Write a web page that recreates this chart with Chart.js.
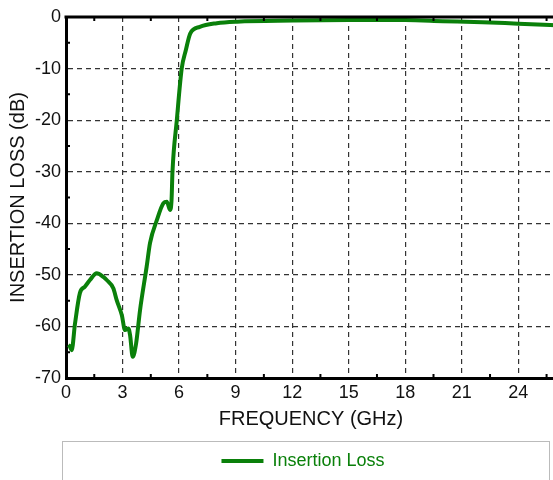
<!DOCTYPE html>
<html lang="en">
<head>
<meta charset="UTF-8">
<title>Insertion Loss</title>
<script src="https://cdn.jsdelivr.net/npm/chart.js"></script>
<style>
  html, body { margin: 0; padding: 0; background: #fff; overflow: hidden; }
  .wrap { position: relative; width: 560px; height: 480px; }
</style>
</head>
<body>
<div class="wrap"><canvas id="lossChart"></canvas></div>
<script>
// values
const freqGHz = [0.12, 0.21, 0.30, 0.48, 0.74, 1.0, 1.27, 1.63, 1.98, 2.16, 2.51, 2.69, 2.96, 3.13, 3.31, 3.40, 3.54, 3.72, 3.93, 4.28, 4.46, 4.82, 5.17, 5.35, 5.52, 5.60, 5.65, 5.88, 6.14, 6.36, 6.59, 7.1, 8.0, 9.07, 12.06, 15, 18, 20, 22.1, 24, 26];
const lossDb  = [-63.6, -63.9, -64.6, -59.4, -53.5, -52.3, -51.0, -49.7, -50.4, -51.0, -52.6, -54.9, -57.8, -60.7, -60.4, -61.7, -65.9, -63.3, -56.8, -48.4, -43.8, -39.4, -36.1, -35.8, -37.4, -35.5, -30, -20, -10, -6.4, -3.2, -1.9, -1.2, -0.9, -0.7, -0.6, -0.6, -0.8, -1.0, -1.3, -1.6];
const xTicks = [0, 3, 6, 9, 12, 15, 18, 21, 24];
const yTicks = [0, -10, -20, -30, -40, -50, -60, -70];
const xMinor = [1.5, 4.5, 7.5, 10.5, 13.5, 16.5, 19.5, 22.5, 25.5];
const yMinor = [-5, -15, -25, -35, -45, -55, -65];

const GREEN = '#0a800a';
const FONT = '"Liberation Sans", Arial, sans-serif';

// top frame line, inward tick marks and the legend box
const framePlugin = {
    id: 'frame',
    beforeDraw(chart) {
        // nudge the legend a little left, as in the original
        const lg = chart.legend;
        if (lg && !lg._nudged) { lg.left -= 8; lg.right -= 8; lg._nudged = true; }
    },
    afterDraw(chart) {
        const { ctx, chartArea: a, scales: { x, y } } = chart;
        ctx.save();
        ctx.strokeStyle = '#000';
        ctx.lineWidth = 3;
        ctx.beginPath();
        ctx.moveTo(a.left - 1.5, a.top);
        ctx.lineTo(a.right + 10, a.top);
        ctx.stroke();

        ctx.lineWidth = 2;
        ctx.beginPath();
        xMinor.forEach(v => {
            const px = x.getPixelForValue(v);
            ctx.moveTo(px, a.top); ctx.lineTo(px, a.top + 4);
            ctx.moveTo(px, a.bottom); ctx.lineTo(px, a.bottom - 4);
        });
        yMinor.forEach(v => {
            const py = y.getPixelForValue(v);
            ctx.moveTo(a.left, py); ctx.lineTo(a.left + 4, py);
        });
        ctx.stroke();

        ctx.strokeStyle = '#bbb';
        ctx.lineWidth = 1;
        ctx.strokeRect(62.5, 441.5, 487, 80);
        ctx.restore();
    }
};

new Chart(document.getElementById('lossChart'), {
    type: 'line',
    data: {
        datasets: [{
            label: 'Insertion Loss',
            data: freqGHz.map((f, i) => ({ x: f, y: lossDb[i] })),
            borderColor: GREEN,
            backgroundColor: GREEN,
            borderWidth: 4,
            pointRadius: 0,
            cubicInterpolationMode: 'monotone',
            fill: false
        }]
    },
    options: {
        responsive: true,
        maintainAspectRatio: false,
        animation: false,
        layout: { padding: { top: 17, right: 4, left: 0, bottom: 0 } },
        plugins: {
            tooltip: { enabled: false },
            legend: {
                position: 'bottom',
                fullSize: false,
                labels: {
                    color: GREEN,
                    font: { family: FONT, size: 18 },
                    boxWidth: 42,
                    boxHeight: 4,
                    padding: 10,
                    generateLabels: chart => Chart.defaults.plugins.legend.labels.generateLabels(chart)
                        .map(l => ({ ...l, lineWidth: 0, fillStyle: GREEN, fontColor: GREEN }))
                }
            }
        },
        scales: {
            x: {
                type: 'linear',
                min: 0,
                max: 26,
                afterBuildTicks: s => { s.ticks = xTicks.map(v => ({ value: v })); },
                afterFit: s => { s.height = 64; },
                ticks: { color: '#111', padding: 4, font: { family: FONT, size: 18 } },
                grid: {
                    drawTicks: false,
                    color: ctx => (ctx.tick && ctx.tick.value === 0) ? 'rgba(0,0,0,0)' : '#333',
                    lineWidth: 1.2
                },
                border: { color: '#000', width: 3, dash: [5, 4] },
                title: {
                    display: true,
                    text: 'FREQUENCY (GHz)',
                    color: '#111',
                    font: { family: FONT, size: 20 },
                    padding: { top: 0, bottom: 11 }
                }
            },
            y: {
                min: -70,
                max: 0,
                afterBuildTicks: s => { s.ticks = yTicks.map(v => ({ value: v })); },
                afterFit: s => { s.width = 66; },
                ticks: { color: '#111', padding: 5, font: { family: FONT, size: 18 } },
                grid: {
                    drawTicks: false,
                    color: ctx => (ctx.tick && (ctx.tick.value === 0 || ctx.tick.value === -70)) ? 'rgba(0,0,0,0)' : '#333',
                    lineWidth: 1.2
                },
                border: { color: '#000', width: 3, dash: [5, 4] },
                title: {
                    display: true,
                    text: 'INSERTION LOSS (dB)',
                    color: '#111',
                    font: { family: FONT, size: 20 },
                    padding: { top: 6, bottom: 0 }
                }
            }
        }
    },
    plugins: [framePlugin]
});
</script>
</body>
</html>
